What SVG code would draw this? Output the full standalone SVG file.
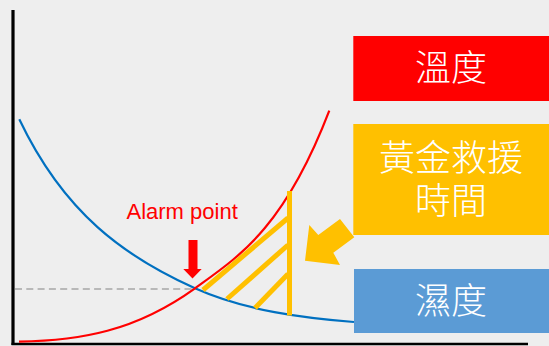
<svg xmlns="http://www.w3.org/2000/svg" width="549" height="346" viewBox="0 0 549 346">
<style>
.cjk{font-family:"Noto Sans CJK TC","Noto Sans CJK SC",sans-serif;font-size:36px;font-weight:300;fill:#ffffff;text-anchor:middle}
.curve{fill:none;stroke-width:2.2}
.hatch{stroke:#ffc000;stroke-width:5;fill:none}
</style>
<rect x="0" y="0" width="549" height="346" fill="#eeeeee"/>
<g id="axes">
<line x1="13" y1="10" x2="13" y2="345" stroke="#000" stroke-width="3.2"/>
<line x1="11.5" y1="344" x2="528" y2="344" stroke="#000" stroke-width="2.4"/>
</g>
<g id="guide">
<line x1="15" y1="289" x2="193" y2="289" stroke="#a6a6a6" stroke-width="1.6" stroke-dasharray="7,4.3"/>
</g>
<g id="curves">
<path class="curve" stroke="#0070c0" d="M19.3,119.3 C64.3,213.8 125,256.8 195,288.3 C245,310.8 304,318 354,322"/>
<path class="curve" stroke="#ff0000" d="M19,341.7 C80,340.5 135,331.5 195,288.3 C240,255.9 284.3,227.7 329.3,110.7"/>
</g>
<g id="golden-window">
<line class="hatch" x1="289.5" y1="191" x2="289.5" y2="315.5" stroke-width="6"/>
<line class="hatch" x1="203" y1="290" x2="288" y2="218"/>
<line class="hatch" x1="227" y1="299" x2="288" y2="245"/>
<line class="hatch" x1="255" y1="308" x2="288" y2="274"/>
</g>
<g id="alarm">
<text x="126.5" y="219" font-family="Liberation Sans, Arial, sans-serif" font-size="22" fill="#ff0000">Alarm point</text>
</g>
<g id="connectors">
<polygon fill="#ff0000" points="188.5,240 197.5,240 197.5,269 201.7,269 192.5,278.5 183.3,269 188.5,269"/>
<polygon fill="#ffc000" points="305,260.7 309.3,225 318.3,235 340,219 354.3,237.3 333.3,252.7 340,265"/>
</g>
<g id="node-temperature">
<rect x="353.3" y="36" width="196" height="65" fill="#ff0000"/>
<text class="cjk" x="451" y="81">溫度</text>
</g>
<g id="node-golden-time">
<rect x="353.3" y="124" width="196" height="111" fill="#ffc000"/>
<text class="cjk" x="451" y="170.5">黃金救援</text>
<text class="cjk" x="451" y="214">時間</text>
</g>
<g id="node-humidity">
<rect x="354" y="269" width="195" height="64" fill="#5b9bd5"/>
<text class="cjk" x="451" y="314">濕度</text>
</g>
</svg>
